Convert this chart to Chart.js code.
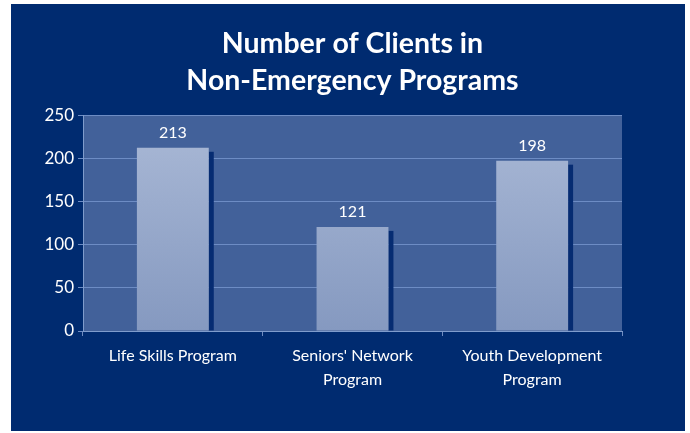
<!DOCTYPE html>
<html>
<head>
<meta charset="utf-8">
<script src="https://cdn.jsdelivr.net/npm/chart.js@4.4.0/dist/chart.umd.min.js"></script>
<style>
  body { margin: 0; background: #ffffff; }
  #wrap { position: absolute; left: 11px; top: 4px; width: 674px; height: 427px; background: #002b70; }
</style>
</head>
<body>
<div id="wrap"><canvas id="mycanvas" width="674" height="427"></canvas></div>
<script>
var programs = [["Life Skills Program"], ["Seniors' Network", "Program"], ["Youth Development", "Program"]];
var clients = [213, 121, 198];
var yTicks = [0, 50, 100, 150, 200, 250];

var FONT = "Lato, 'Open Sans', sans-serif";

// plot area fill behind the bars
var plotBg = {
  id: 'plotBg',
  beforeDraw: function(chart) {
    var a = chart.chartArea, c = chart.ctx;
    c.save();
    c.fillStyle = '#42619a';
    c.fillRect(a.left, a.top, a.right - a.left, a.bottom - a.top);
    c.restore();
  }
};

// dark shadow on the right of each bar + value labels
var barExtras = {
  id: 'barExtras',
  beforeDatasetsDraw: function(chart) {
    var c = chart.ctx;
    var meta = chart.getDatasetMeta(0);
    c.save();
    c.fillStyle = '#062c72';
    meta.data.forEach(function(el) {
      var right = el.x + el.width / 2;
      c.fillRect(right, el.y + 4, 5, el.base - el.y - 4);
    });
    c.restore();
  },
  afterDatasetsDraw: function(chart) {
    var c = chart.ctx;
    var meta = chart.getDatasetMeta(0);
    c.save();
    c.fillStyle = '#ffffff';
    c.font = '16px ' + FONT;
    c.textAlign = 'center';
    c.textBaseline = 'middle';
    meta.data.forEach(function(el, i) {
      c.fillText(clients[i], el.x, el.y - 15);
    });
    c.restore();
  }
};

var ctx = document.getElementById('mycanvas');

var chart = new Chart(ctx, {
  type: 'bar',
  data: {
    labels: programs,
    datasets: [{
      data: clients,
      backgroundColor: function(context) {
        var a = context.chart.chartArea;
        if (!a) return '#9aaccc';
        var g = context.chart.ctx.createLinearGradient(0, a.top, 0, a.bottom);
        g.addColorStop(0, '#aab9d6');
        g.addColorStop(1, '#8599c0');
        return g;
      },
      borderWidth: 0,
      barPercentage: 0.4,
      categoryPercentage: 1
    }]
  },
  options: {
    responsive: false,
    animation: false,
    layout: { padding: { left: 0, right: 63, top: 0, bottom: 30 } },
    plugins: {
      legend: { display: false },
      tooltip: { enabled: false },
      title: {
        display: true,
        fullSize: false,
        text: ['Number of Clients in', 'Non-Emergency Programs'],
        color: '#ffffff',
        font: { family: FONT, size: 28.5, weight: 'bold', lineHeight: 1.28 },
        padding: { top: 22, bottom: 17 }
      }
    },
    scales: {
      x: {
        grid: { drawOnChartArea: false, color: '#6f8cc0', tickLength: 5 },
        border: { color: '#7f9ccc' },
        ticks: {
          color: '#ffffff',
          padding: 8,
          maxRotation: 0,
          font: { family: FONT, size: 16, lineHeight: 1.5 }
        },
        afterFit: function(s) { s.height = 70; }
      },
      y: {
        min: 0,
        max: 250,
        afterBuildTicks: function(s) {
          s.ticks = yTicks.map(function(v) { return { value: v }; });
        },
        grid: { color: '#6d8cc4', tickLength: 5 },
        border: { color: '#7f9ccc' },
        ticks: {
          color: '#ffffff',
          padding: 4,
          font: { family: FONT, size: 17 }
        },
        afterFit: function(s) { s.width = 72; }
      }
    }
  },
  plugins: [plotBg, barExtras]
});
</script>
</body>
</html>
